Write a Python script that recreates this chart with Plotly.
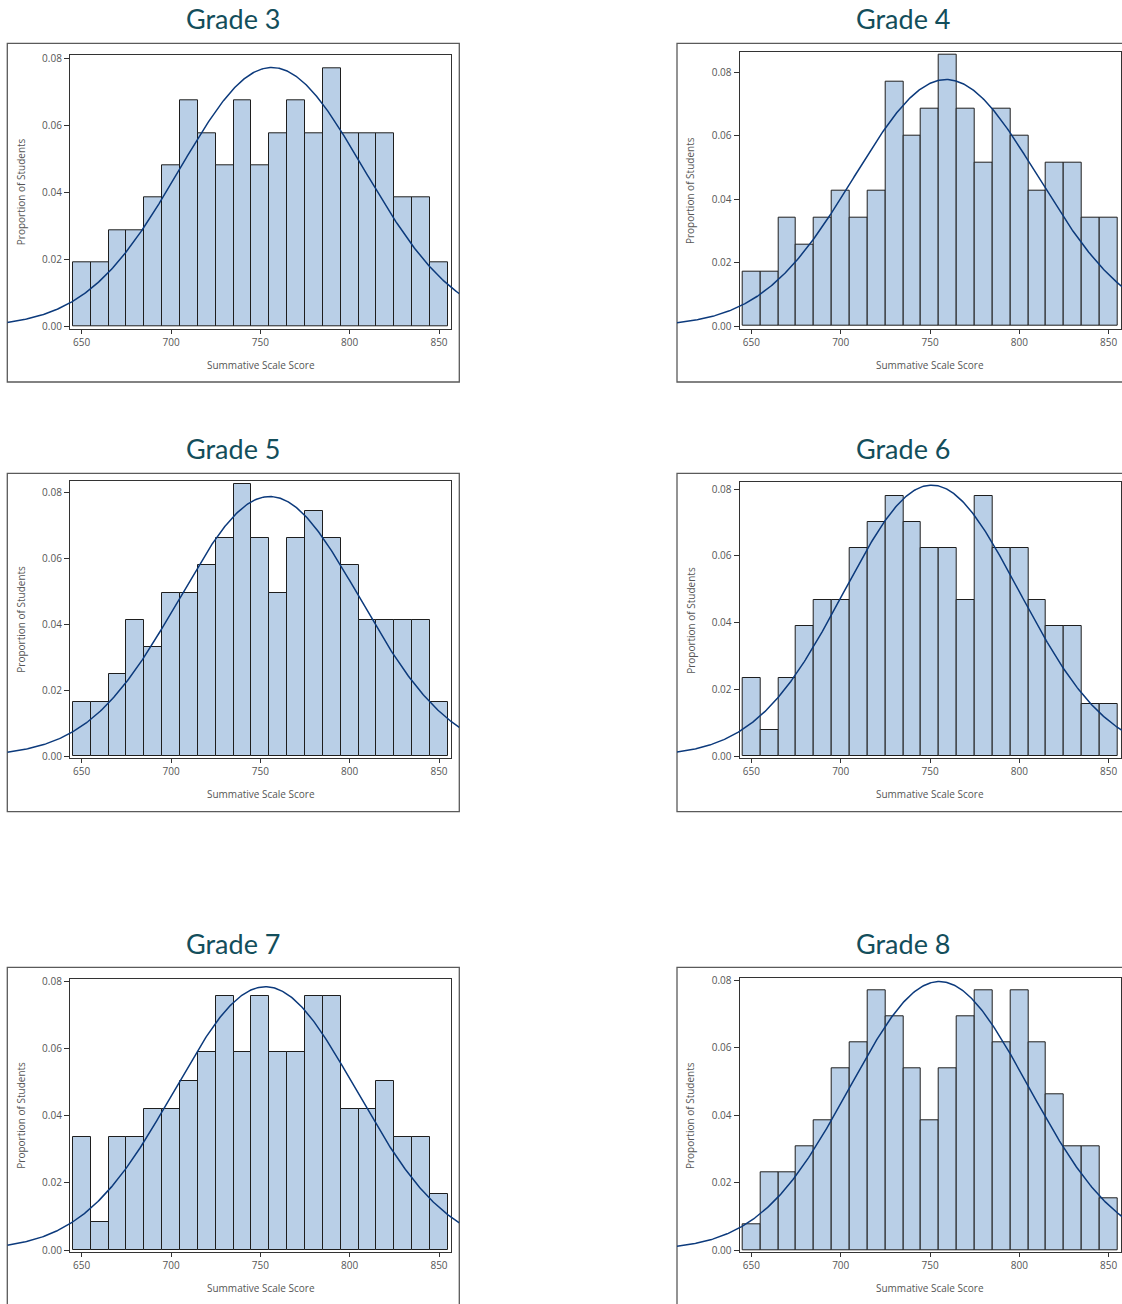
import numpy as np
import plotly.graph_objects as go

# ---------------------------------------------------------------- data
bin_centers = list(range(650, 851, 10))          # 10-point score bins
x_ticks = [650, 700, 750, 800, 850]
y_ticks = [0.00, 0.02, 0.04, 0.06, 0.08]
y_tick_text = ["0.00", "0.02", "0.04", "0.06", "0.08"]

grade_titles = ["Grade 3", "Grade 4", "Grade 5", "Grade 6", "Grade 7", "Grade 8"]

grade3 = [0.0192, 0.0192, 0.0288, 0.0288, 0.0385, 0.0481, 0.0673, 0.0577, 0.0481, 0.0673, 0.0481,
          0.0577, 0.0673, 0.0577, 0.0769, 0.0577, 0.0577, 0.0577, 0.0385, 0.0385, 0.0192]
grade4 = [0.0171, 0.0171, 0.0342, 0.0256, 0.0342, 0.0427, 0.0342, 0.0427, 0.0769, 0.0598, 0.0684,
          0.0855, 0.0684, 0.0513, 0.0684, 0.0598, 0.0427, 0.0513, 0.0513, 0.0342, 0.0342]
grade5 = [0.0165, 0.0165, 0.0248, 0.0413, 0.0331, 0.0496, 0.0496, 0.0579, 0.0661, 0.0826, 0.0661,
          0.0496, 0.0661, 0.0744, 0.0661, 0.0579, 0.0413, 0.0413, 0.0413, 0.0413, 0.0165]
grade6 = [0.0234, 0.0078, 0.0234, 0.0391, 0.0469, 0.0469, 0.0625, 0.0703, 0.0781, 0.0703, 0.0625,
          0.0625, 0.0469, 0.0781, 0.0625, 0.0625, 0.0469, 0.0391, 0.0391, 0.0156, 0.0156]
grade7 = [0.0336, 0.0084, 0.0336, 0.0336, 0.0420, 0.0420, 0.0504, 0.0588, 0.0756, 0.0588, 0.0756,
          0.0588, 0.0588, 0.0756, 0.0756, 0.0420, 0.0420, 0.0504, 0.0336, 0.0336, 0.0168]
grade8 = [0.0077, 0.0231, 0.0231, 0.0308, 0.0385, 0.0538, 0.0615, 0.0769, 0.0692, 0.0538, 0.0385,
          0.0538, 0.0692, 0.0769, 0.0615, 0.0769, 0.0615, 0.0462, 0.0308, 0.0308, 0.0154]
grade_values = [grade3, grade4, grade5, grade6, grade7, grade8]

# fitted normal curve parameters (mean, standard deviation) per grade
curve_mean = [756.4, 759.0, 755.2, 750.9, 752.8, 755.2]
curve_sd = [51.7, 51.4, 50.6, 49.1, 50.95, 50.1]
BIN_WIDTH = 10

# ---------------------------------------------------------------- page geometry (pixels)
W, H = 1122, 1304
COL_OFFSET = [0.0, 669.7]
OUTER_LEFT, OUTER_RIGHT = 7.3, 459.3
INNER_LEFT, INNER_RIGHT = 70.0, 451.0
TICK650_PX, TICK850_PX = 81.7, 439.0
TITLE_CX = 233.3
ROW_OUTER_TOP = [43.3, 473.3, 967.3]
ROW_OUTER_BOTTOM = [382.0, 811.7, 1330.0]
ROW_TITLE_Y = [19.0, 449.0, 943.0]

inner_top = [55.3, 51.7, 481.0, 482.0, 979.0, 978.3]
inner_bottom = [329.0, 329.0, 758.3, 758.3, 1252.3, 1252.3]
zero_px = [326.7, 326.0, 756.0, 756.0, 1250.0, 1250.0]
top_tick_px = [58.0, 72.0, 492.7, 489.3, 981.0, 980.3]

BAR_FILL = "#b9cfe7"
BAR_EDGE = "#1e1e1e"
CURVE_COLOR = "#0c3a7c"
TITLE_COLOR = "#134e5b"
TEXT_COLOR = "#555555"
FRAME_COLOR = "#5a5a5a"
AXIS_COLOR = "#333333"
TICK_FONT = dict(family="Open Sans", size=10, color=TEXT_COLOR)


def px_x(p):
    return p / W


def px_y(p):
    return 1 - p / H


def sfx(k):
    return "" if k == 1 else str(k)


fig = go.Figure()
layout = dict(
    template="none",
    width=W, height=H,
    margin=dict(l=0, r=0, t=0, b=0, pad=0, autoexpand=False),
    paper_bgcolor="white",
    plot_bgcolor="rgba(0,0,0,0)",
    showlegend=False,
    bargap=0,
)
annotations = []
shapes = []

x_scale = (TICK850_PX - TICK650_PX) / 200.0   # pixels per score point

for i in range(6):
    r, c = divmod(i, 2)
    off = COL_OFFSET[c]
    bar_ax, crv_ax = 2 * i + 1, 2 * i + 2

    # x range of the inner (histogram) frame
    xr0 = 650 - (TICK650_PX - INNER_LEFT) / x_scale
    xr1 = 850 + (INNER_RIGHT - TICK850_PX) / x_scale
    # the fitted curve runs across the whole outer frame
    o_left = OUTER_LEFT + off
    o_right = min(OUTER_RIGHT + off, W)
    cr0 = xr0 - (INNER_LEFT + off - o_left) / x_scale
    cr1 = xr1 + (o_right - (INNER_RIGHT + off)) / x_scale

    # y range from pixel positions of 0.00 and 0.08
    y_scale = (zero_px[i] - top_tick_px[i]) / 0.08
    yr0 = -(inner_bottom[i] - zero_px[i]) / y_scale
    yr1 = (zero_px[i] - inner_top[i]) / y_scale
    y_dom = [px_y(inner_bottom[i]), px_y(inner_top[i])]

    fig.add_trace(go.Bar(
        x=bin_centers, y=grade_values[i], width=BIN_WIDTH,
        marker=dict(color=BAR_FILL, line=dict(color=BAR_EDGE, width=1)),
        xaxis="x" + sfx(bar_ax), yaxis="y" + sfx(bar_ax), hoverinfo="skip",
    ))

    xs = np.linspace(cr0, cr1, 400)
    ys = BIN_WIDTH * np.exp(-0.5 * ((xs - curve_mean[i]) / curve_sd[i]) ** 2) / (curve_sd[i] * np.sqrt(2 * np.pi))
    fig.add_trace(go.Scatter(
        x=xs, y=ys, mode="lines", line=dict(color=CURVE_COLOR, width=1.5),
        xaxis="x" + sfx(crv_ax), yaxis="y" + sfx(crv_ax), hoverinfo="skip",
    ))

    layout["xaxis" + sfx(bar_ax)] = dict(
        domain=[px_x(INNER_LEFT + off), px_x(INNER_RIGHT + off)], range=[xr0, xr1],
        anchor="y" + sfx(bar_ax), tickvals=x_ticks, ticks="outside", ticklen=4,
        tickcolor=AXIS_COLOR, tickwidth=1, tickfont=TICK_FONT,
        showline=True, linecolor=AXIS_COLOR, linewidth=1.3, mirror=True,
        showgrid=False, zeroline=False, fixedrange=True, automargin=False,
    )
    layout["yaxis" + sfx(bar_ax)] = dict(
        domain=y_dom, range=[yr0, yr1], anchor="x" + sfx(bar_ax),
        tickvals=y_ticks, ticktext=y_tick_text, ticks="outside", ticklen=5,
        tickcolor=AXIS_COLOR, tickwidth=1, tickfont=TICK_FONT,
        showline=True, linecolor=AXIS_COLOR, linewidth=1.3, mirror=True,
        showgrid=False, zeroline=False, fixedrange=True, automargin=False,
    )
    layout["xaxis" + sfx(crv_ax)] = dict(
        domain=[px_x(o_left), px_x(o_right)], range=[cr0, cr1],
        anchor="y" + sfx(crv_ax), visible=False, fixedrange=True, automargin=False,
    )
    layout["yaxis" + sfx(crv_ax)] = dict(
        domain=y_dom, range=[yr0, yr1], anchor="x" + sfx(crv_ax),
        visible=False, fixedrange=True, automargin=False,
    )

    # outer frame of the panel
    shapes.append(dict(
        type="rect", xref="paper", yref="paper",
        x0=px_x(o_left), x1=px_x(OUTER_RIGHT + off),
        y0=px_y(ROW_OUTER_BOTTOM[r]), y1=px_y(ROW_OUTER_TOP[r]),
        line=dict(color=FRAME_COLOR, width=1.3), fillcolor="rgba(0,0,0,0)", layer="below",
    ))

    # panel heading
    annotations.append(dict(
        text=grade_titles[i], xref="paper", yref="paper",
        x=px_x(TITLE_CX + off), y=px_y(ROW_TITLE_Y[r]),
        xanchor="center", yanchor="middle", showarrow=False,
        font=dict(family="Lato", size=27, color=TITLE_COLOR),
    ))
    # axis titles
    annotations.append(dict(
        text="Summative Scale Score", xref="paper", yref="paper",
        x=px_x((INNER_LEFT + INNER_RIGHT) / 2 + off), y=px_y(inner_bottom[i] + 36),
        xanchor="center", yanchor="middle", showarrow=False,
        font=dict(family="Open Sans", size=10, color=TEXT_COLOR),
    ))
    annotations.append(dict(
        text="Proportion of Students", xref="paper", yref="paper",
        x=px_x(21 + off), y=px_y((inner_top[i] + inner_bottom[i]) / 2),
        xanchor="center", yanchor="middle", textangle=-90, showarrow=False,
        font=dict(family="Open Sans", size=10, color=TEXT_COLOR),
    ))

layout["annotations"] = annotations
layout["shapes"] = shapes
fig.update_layout(**layout)

fig.write_html("out.html")
